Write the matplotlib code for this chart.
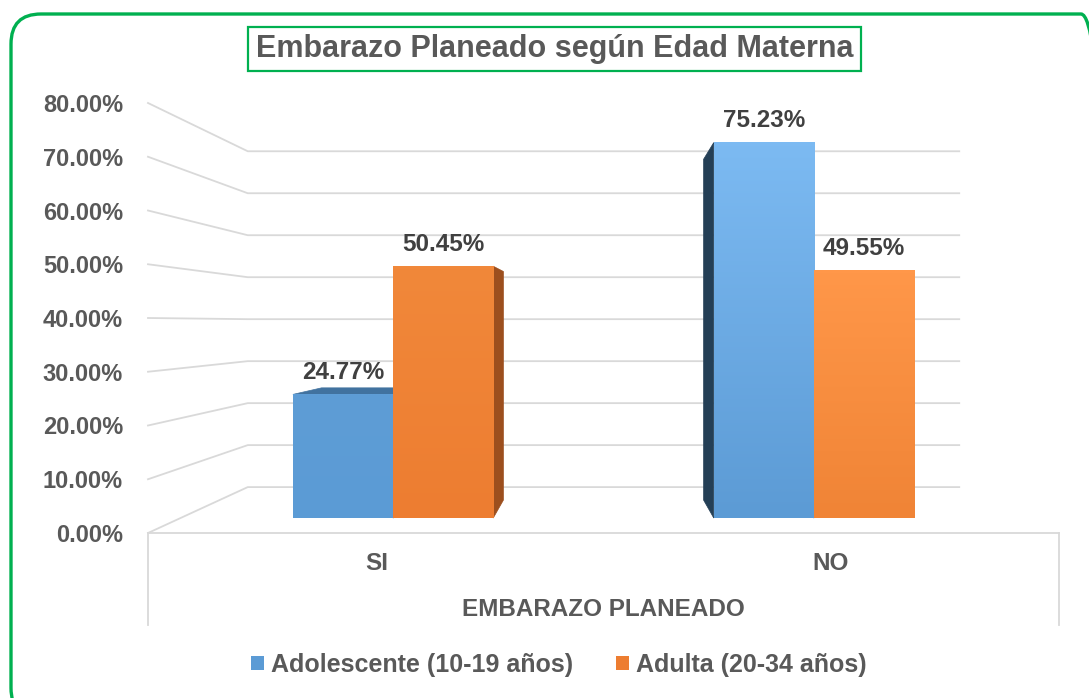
import matplotlib.pyplot as plt
import matplotlib.transforms as mtransforms
import numpy as np
from matplotlib.patches import Polygon, Patch, FancyBboxPatch, Rectangle
from matplotlib.colors import LinearSegmentedColormap

plt.rcParams['font.family'] = ['Liberation Sans', 'DejaVu Sans']

# data
categories = ['SI', 'NO']
series_names = ['Adolescente (10-19 años)', 'Adulta (20-34 años)']
adolescente = [0.2477, 0.7523]
adulta = [0.5045, 0.4955]
yticks = np.arange(0, 0.81, 0.1)
title = 'Embarazo Planeado según Edad Materna'
xlabel = 'EMBARAZO PLANEADO'

# styles: (top, bottom) gradient of front face, side colour, top colour
front_cols = [[('#5E9DD6', '#5B9BD5'), ('#7CBAF2', '#5C9BD5')],
              [('#F1883A', '#ED7D31'), ('#FF9749', '#F08436')]]
side_cols = [['#2A4A68', '#243F56'], ['#9C4F1E', '#A5531F']]
top_cols = [['#41729F', '#4A84BD'], ['#C0652A', '#D06E2C']]
legend_cols = ['#5B9BD5', '#ED7D31']

W, H = 1089, 698
fig = plt.figure(figsize=(W / 100, H / 100), dpi=100)


def px_box(x0, y0, x1, y1):
    return [x0 / W, 1 - y1 / H, (x1 - x0) / W, (y1 - y0) / H]


grid_col = '#D9D9D9'
text_col = '#595959'

# front plane of the 3D box
ax = fig.add_axes(px_box(148, 103, 1059, 533))
ax.set_xlim(-0.505, 1.505)
ax.set_ylim(0, 0.8)
ax.patch.set_alpha(0)
for sp in ['left', 'right', 'top']:
    ax.spines[sp].set_visible(False)
ax.spines['bottom'].set_color(grid_col)
ax.spines['bottom'].set_linewidth(1.3)

# simple perspective: vanishing point + depth factors
VP = (0.5, 0.39)
s_wall = 0.781
s_front = 0.9286
s_back = 0.843


def proj(x, v, s):
    return VP[0] + (x - VP[0]) * s, VP[1] + (v - VP[1]) * s


xl, xr = ax.get_xlim()
for v in yticks:
    p0 = proj(xl, v, 1.0)
    p1 = proj(xl, v, s_wall)
    p2 = proj(xr, v, s_wall)
    ax.plot([p0[0], p1[0], p2[0]], [p0[1], p1[1], p2[1]], color=grid_col,
            lw=1.3, clip_on=False, zorder=1)

ax.set_yticks(yticks)
ax.set_yticklabels([f'{v * 100:.2f}%' for v in yticks])
ax.tick_params(axis='y', length=0, pad=18, labelsize=17, labelcolor=text_col)
for lab in ax.get_yticklabels():
    lab.set_fontweight('bold')

ax.set_xticks(range(len(categories)))
ax.set_xticklabels(categories)
ax.tick_params(axis='x', length=0, pad=14, labelsize=17.5, labelcolor=text_col)
for lab in ax.get_xticklabels():
    lab.set_fontweight('bold')
ax.set_xlabel(xlabel, fontsize=17.5, fontweight='bold', color=text_col, labelpad=16)

# category area box lines
cax = fig.add_axes(px_box(148, 533, 1059, 625))
cax.set_xticks([])
cax.set_yticks([])
cax.patch.set_alpha(0)
for sp in ['top', 'bottom']:
    cax.spines[sp].set_visible(False)
for sp in ['left', 'right']:
    cax.spines[sp].set_color(grid_col)
    cax.spines[sp].set_linewidth(1.3)

# bars
bw = 0.238
values = [adolescente, adulta]
faces = []
fronts = []
for j, vals in enumerate(values):
    for i, v in enumerate(vals):
        x0 = i - bw + j * bw
        x1 = x0 + bw
        # side faces
        if x0 > VP[0]:
            pts = [proj(x0, 0, s_front), proj(x0, v, s_front), proj(x0, v, s_back), proj(x0, 0, s_back)]
            faces.append((pts, side_cols[j][i]))
        if x1 < VP[0]:
            pts = [proj(x1, 0, s_front), proj(x1, v, s_front), proj(x1, v, s_back), proj(x1, 0, s_back)]
            faces.append((pts, side_cols[j][i]))
        if v < VP[1]:
            pts = [proj(x0, v, s_front), proj(x1, v, s_front), proj(x1, v, s_back), proj(x0, v, s_back)]
            faces.append((pts, top_cols[j][i]))
        fronts.append((x0, x1, v, front_cols[j][i]))

for pts, c in faces:
    ax.add_patch(Polygon(pts, closed=True, facecolor=c, edgecolor=c, lw=0.5, zorder=2, clip_on=False))

for x0, x1, v, (ctop, cbot) in fronts:
    fx0, fy0 = proj(x0, 0, s_front)
    fx1, fy1 = proj(x1, v, s_front)
    cmap = LinearSegmentedColormap.from_list('g', [cbot, ctop])
    grad = np.linspace(0, 1, 64).reshape(-1, 1)
    im = ax.imshow(grad, cmap=cmap, origin='lower', aspect='auto',
                   extent=(fx0, fx1, fy0, fy1), zorder=3, interpolation='bilinear')
    im.set_clip_on(False)
    ax.set_xlim(xl, xr)
    ax.set_ylim(0, 0.8)
    ax.annotate(f'{v * 100:.2f}%', xy=((fx0 + fx1) / 2, fy1), xytext=(0, 16),
                textcoords='offset points', ha='center', va='center',
                fontsize=17.5, fontweight='bold', color='#404040', zorder=5)

# legend
handles = [Patch(facecolor=c, edgecolor='none') for c in legend_cols]
fig.legend(handles, series_names, loc='center', bbox_to_anchor=(559 / W, 1 - 665 / H),
           ncol=2, frameon=False, handlelength=0.5, handleheight=0.5,
           handletextpad=0.3, columnspacing=1.7,
           prop={'size': 18, 'weight': 'bold'}, labelcolor=text_col)

# title with green box
ident = mtransforms.IdentityTransform()
fig.add_artist(Rectangle((248, H - 71), 861 - 248, 44, transform=ident,
                         facecolor='white', edgecolor='#00B050', lw=1.6))
fig.text(555 / W, 1 - 49 / H, title, ha='center', va='center', fontsize=22,
         fontweight='bold', color=text_col)

# outer rounded border
fig.add_artist(FancyBboxPatch((11, -20), 1100, H - 13 + 20 - 1, transform=ident,
                              boxstyle='round,pad=0,rounding_size=30',
                              facecolor='none', edgecolor='#00B050', lw=2.4))

fig.savefig('out.png', dpi=100)
